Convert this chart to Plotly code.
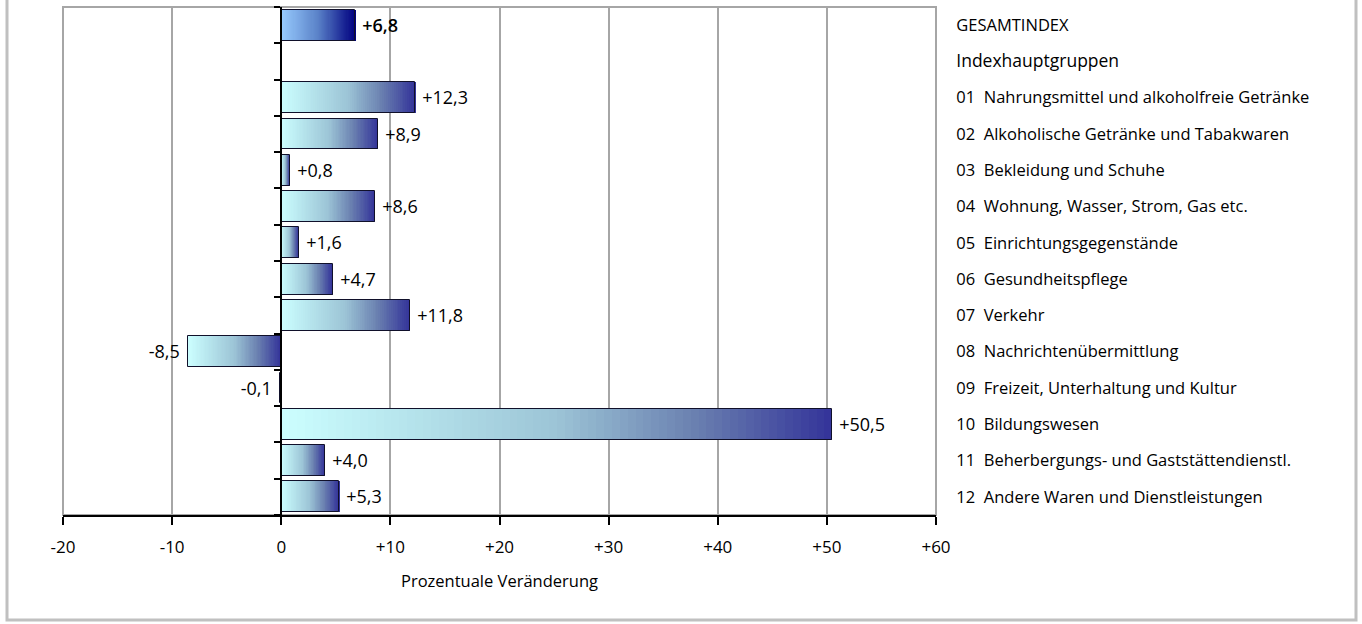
import plotly.graph_objects as go

# ---- data ----
categories = [
    "GESAMTINDEX",
    "Indexhauptgruppen",
    "01  Nahrungsmittel und alkoholfreie Getränke",
    "02  Alkoholische Getränke und Tabakwaren",
    "03  Bekleidung und Schuhe",
    "04  Wohnung, Wasser, Strom, Gas etc.",
    "05  Einrichtungsgegenstände",
    "06  Gesundheitspflege",
    "07  Verkehr",
    "08  Nachrichtenübermittlung",
    "09  Freizeit, Unterhaltung und Kultur",
    "10  Bildungswesen",
    "11  Beherbergungs- und Gaststättendienstl.",
    "12  Andere Waren und Dienstleistungen",
]
values = [6.8, None, 12.3, 8.9, 0.8, 8.6, 1.6, 4.7, 11.8, -8.5, -0.1, 50.5, 4.0, 5.3]
x_ticks = [-20, -10, 0, 10, 20, 30, 40, 50, 60]
x_ticktext = ["-20", "-10", "0", "+10", "+20", "+30", "+40", "+50", "+60"]
axis_title = "Prozentuale Veränderung"

# ---- styling helpers ----
FONT = "Open Sans"
grad_groups = [(0.0, (204, 255, 255)), (0.5, (156, 196, 214)), (0.75, (106, 128, 176)), (1.0, (51, 51, 153))]
grad_total = [(0.0, (153, 204, 255)), (0.5, (90, 130, 200)), (1.0, (0, 0, 128))]


def interp(stops, t):
    for (t0, c0), (t1, c1) in zip(stops[:-1], stops[1:]):
        if t <= t1:
            f = (t - t0) / (t1 - t0) if t1 > t0 else 0
            return "rgb(%d,%d,%d)" % tuple(round(a + (b - a) * f) for a, b in zip(c0, c1))
    return "rgb(%d,%d,%d)" % stops[-1][1]


pos = list(range(len(categories)))
ticktext = []
for i, c in enumerate(categories):
    c = c.replace("  ", "\u00a0\u00a0")
    if i == 1:
        ticktext.append("<span style='font-weight:500;font-size:17.5px'>" + c + "</span>")
    else:
        ticktext.append(c)

fig = go.Figure()

N = 70
W = 0.85
for s in range(N):
    xs, bases, cols, ys = [], [], [], []
    t = (s + 0.5) / N
    for i, v in enumerate(values):
        if v is None:
            continue
        left, right = min(0, v), max(0, v)
        step = (right - left) / N
        xs.append(step * 1.02)
        bases.append(left + step * s)
        ys.append(pos[i])
        cols.append(interp(grad_total if i == 0 else grad_groups, t))
    fig.add_trace(go.Bar(
        orientation="h", x=xs, y=ys, base=bases, width=W,
        marker=dict(color=cols, line=dict(width=0)),
        hoverinfo="skip", showlegend=False,
    ))

# outline + labels
ov, oy, otext = [], [], []
for i, v in enumerate(values):
    if v is None:
        continue
    lab = ("%+.1f" % v).replace(".", ",")
    lab = "\u00a0" + lab if v >= 0 else lab + "\u00a0"
    if i == 0:
        lab = "<span style='font-weight:600'>" + lab + "</span>"
    ov.append(v)
    oy.append(pos[i])
    otext.append(lab)
fig.add_trace(go.Bar(
    orientation="h", x=ov, y=oy, width=W,
    marker=dict(color="rgba(0,0,0,0)", line=dict(color="#10102a", width=1)),
    text=otext, textposition="outside", cliponaxis=False,
    textfont=dict(family=FONT, size=18, color="#000"),
    hoverinfo="skip", showlegend=False,
))

# dummy trace for zero-axis
fig.add_trace(go.Scatter(x=[None], y=[None], yaxis="y2", showlegend=False, hoverinfo="skip"))

L, R, T, B = 63, 1362 - 936, 7, 624 - 515
pw, ph = 1362 - L - R, 624 - T - B

fig.update_layout(
    width=1362, height=624,
    margin=dict(l=L, r=R, t=T, b=B, pad=0),
    paper_bgcolor="white", plot_bgcolor="white",
    barmode="overlay", bargap=0,
    font=dict(family=FONT, size=16, color="#000"),
    xaxis=dict(
        range=[-20, 60], tickvals=x_ticks, ticktext=x_ticktext,
        showgrid=True, gridcolor="#a6a6a6", gridwidth=2, zeroline=False,
        showline=True, linecolor="black", linewidth=2,
        ticks="outside", ticklen=8, tickwidth=2, tickcolor="black",
        ticklabelstandoff=8,
        tickfont=dict(family=FONT, size=17, color="#000"),
        title=dict(text=axis_title, font=dict(family=FONT, size=16.5, color="#000"), standoff=18),
        fixedrange=True,
    ),
    yaxis=dict(
        range=[13.5, -0.5], tickvals=pos, ticktext=ticktext, side="right",
        showgrid=False, zeroline=False, showline=False,
        ticks="outside", ticklen=16, tickcolor="rgba(0,0,0,0)",
        tickfont=dict(family=FONT, size=16.5, color="#000"),
        fixedrange=True,
    ),
    yaxis2=dict(
        range=[13.5, -0.5], overlaying="y", anchor="free", position=0.25, side="left",
        tickvals=[p - 0.5 for p in pos] + [13.5], showticklabels=False,
        showgrid=False, zeroline=False,
        showline=True, linecolor="black", linewidth=2,
        ticks="outside", ticklen=6, tickwidth=2, tickcolor="black",
        fixedrange=True,
    ),
    shapes=[
        dict(type="rect", xref="paper", yref="paper", x0=0, x1=1, y0=0, y1=1,
             line=dict(color="#a6a6a6", width=2), layer="below"),
        dict(type="rect", xref="paper", yref="paper",
             x0=(7 - L) / pw, x1=(1356 - L) / pw,
             y0=(515 - 620) / ph, y1=(515 + 10) / ph,
             line=dict(color="#c0c0c0", width=3), layer="below"),
    ],
)

fig.write_html("out.html", config={"displayModeBar": False},
               post_script="document.body.style.margin='0';")
